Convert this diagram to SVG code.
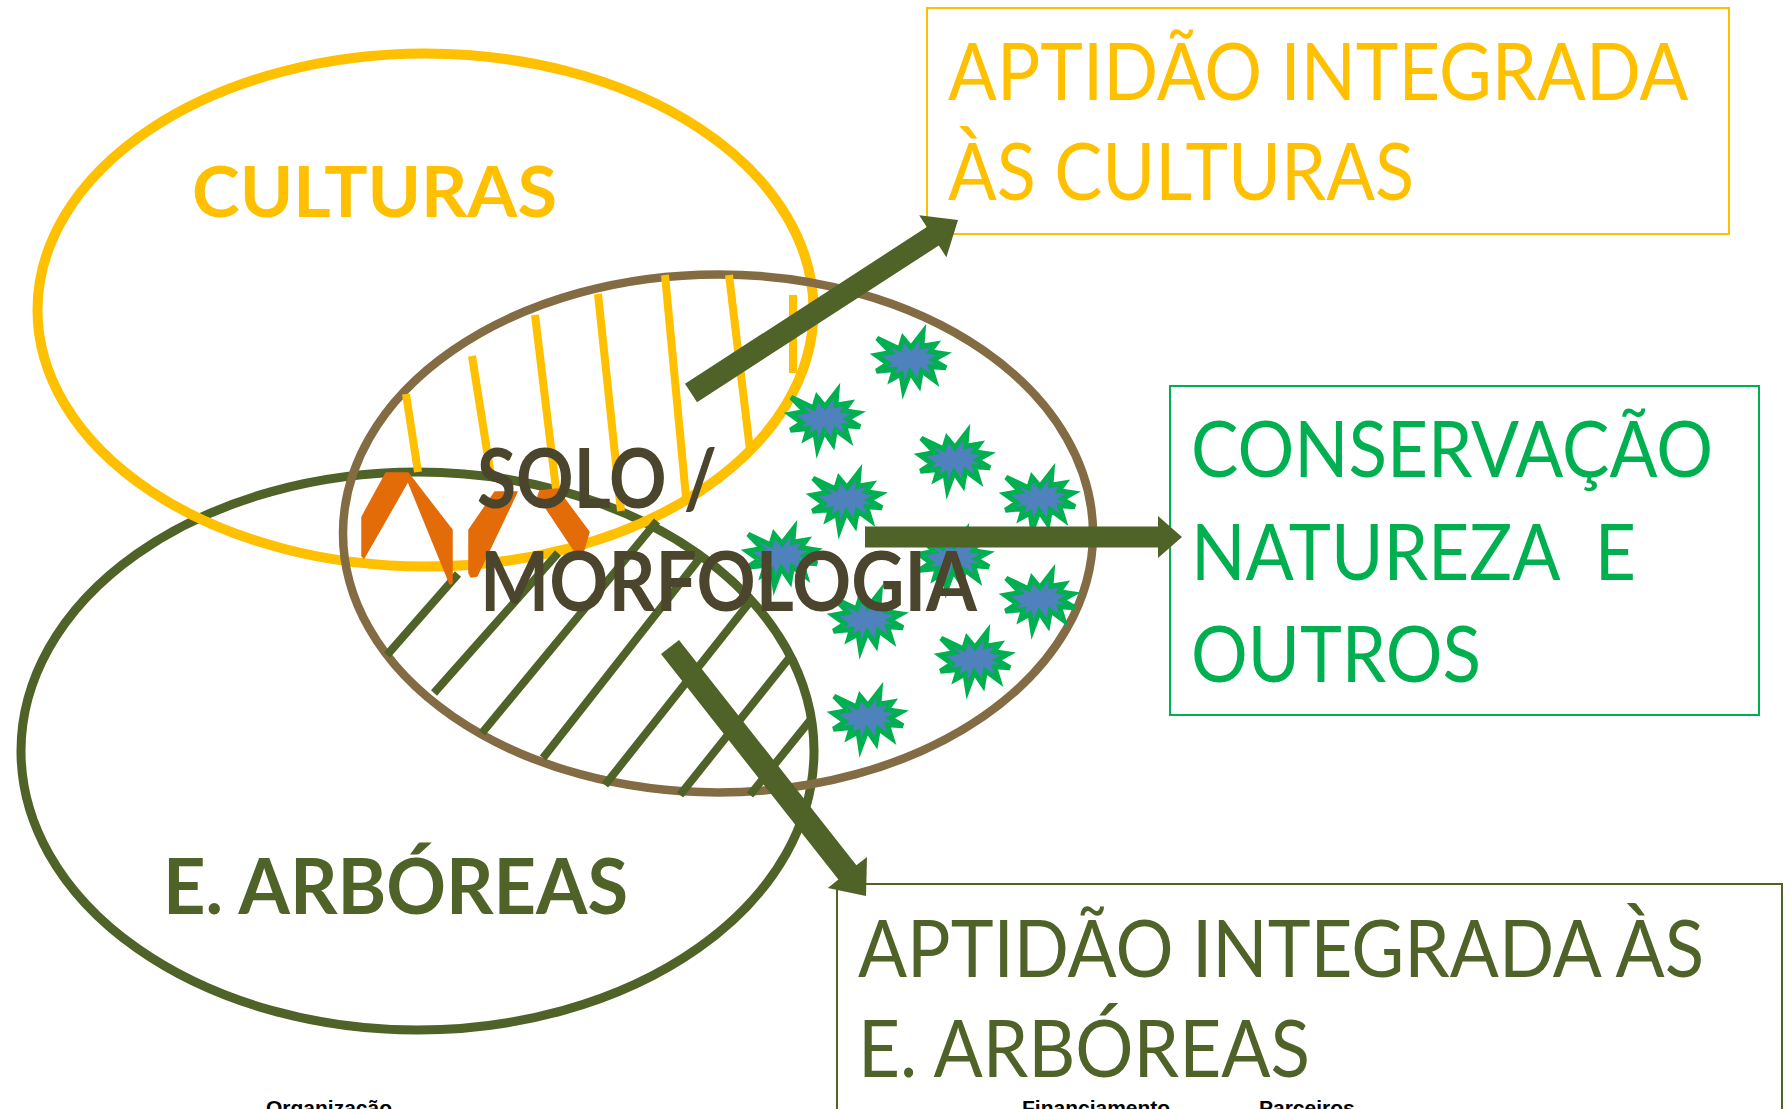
<svg xmlns="http://www.w3.org/2000/svg" xmlns:xlink="http://www.w3.org/1999/xlink" width="1791" height="1109" viewBox="0 0 1791 1109">
<style>
.ring{fill:none}
.lbl{font-family:Lato,"Open Sans","Liberation Sans",sans-serif;font-weight:700}
.box{fill:none;stroke-width:2}
.boxtxt{font-family:Lato,"Open Sans","Liberation Sans",sans-serif;font-weight:400}
.yh{stroke:#FFC000;stroke-width:8;fill:none}
.gh{stroke:#4F6228;stroke-width:8;fill:none}
.chev{fill:#E36C09;stroke:#E36C09;stroke-width:1.5;stroke-linejoin:round}
.star{fill:#4F81BD;stroke:#00B050;stroke-width:5;stroke-linejoin:miter}
.arrow{fill:#4F6228}
.foot{font-family:"Liberation Sans",Arial,sans-serif;font-weight:700;font-size:21px;fill:#000}
</style>
<defs>
<path id="star" d="M0,-13.43 L12.06,-29 L10.87,-14.7 L24.56,-17.03 L19.13,-9.36 L33.37,-7.15 L22.06,-0.87 L35,6.69 L19.56,5.75 L23.8,19.59 L10.43,9.82 L7.93,24 L-0.87,11.1 L-7.5,29 L-10,12.96 L-19.57,18.3 L-16.63,8.42 L-34.56,10.17 L-22.94,2.62 L-35,-5.87 L-20.01,-8.55 L-33.8,-22.84 L-11.3,-12.03 L-7.93,-22.84 Z"/>
</defs>
<rect width="1791" height="1109" fill="#fff"/>

<g id="node-arboreas">
<ellipse class="ring" cx="417.5" cy="751" rx="396.5" ry="279" stroke="#4F6228" stroke-width="9"/>
<text class="lbl" x="163" y="914" font-size="77" fill="#4F6228" textLength="465" lengthAdjust="spacingAndGlyphs">E. ARBÓREAS</text>
</g>

<g id="node-culturas">
<ellipse class="ring" cx="425.5" cy="310" rx="388" ry="256.5" stroke="#FFC000" stroke-width="10"/>
<text class="lbl" x="192" y="217" font-size="71" fill="#FFC000" textLength="365" lengthAdjust="spacingAndGlyphs">CULTURAS</text>
</g>

<g id="node-solo">
<ellipse class="ring" cx="718" cy="533.4" rx="375" ry="259" stroke="#836C44" stroke-width="8.5"/>
<g id="hatch-culturas">
<line class="yh" x1="406" y1="394" x2="418" y2="472"/>
<line class="yh" x1="472" y1="356" x2="491" y2="476"/>
<line class="yh" x1="535" y1="315" x2="556" y2="489"/>
<line class="yh" x1="598" y1="294" x2="621" y2="511"/>
<line class="yh" x1="665" y1="275" x2="686" y2="497"/>
<line class="yh" x1="729" y1="275" x2="750" y2="450"/>
<line class="yh" x1="793" y1="295" x2="793" y2="373"/>
</g>
<g id="hatch-arboreas">
<line class="gh" x1="387" y1="655" x2="458" y2="574"/>
<line class="gh" x1="434" y1="693" x2="558" y2="553"/>
<line class="gh" x1="482" y1="733" x2="657" y2="521"/>
<line class="gh" x1="543" y1="758" x2="703" y2="554"/>
<line class="gh" x1="605" y1="785" x2="753" y2="598"/>
<line class="gh" x1="680" y1="795" x2="790" y2="657"/>
<line class="gh" x1="750" y1="795" x2="812" y2="718"/>
</g>
<g id="chevrons">
<polygon class="chev" points="362,517 386,473 408,473 452,530 452,583 450,584 408,481 364,558 362,556"/>
<polygon class="chev" points="469,530 495,492 517,492 477,576 471,577 469,573"/>
<polygon class="chev" points="540,491 557,489 589,532 582,556 578,556 538,496"/>
</g>
<g id="stars">
<use xlink:href="#star" class="star" x="911" y="361"/>
<use xlink:href="#star" class="star" x="825" y="420"/>
<use xlink:href="#star" class="star" x="955" y="461"/>
<use xlink:href="#star" class="star" x="847" y="501"/>
<use xlink:href="#star" class="star" x="1040" y="500"/>
<use xlink:href="#star" class="star" x="782" y="557"/>
<use xlink:href="#star" class="star" x="954" y="560"/>
<use xlink:href="#star" class="star" x="1040" y="601"/>
<use xlink:href="#star" class="star" x="868" y="621"/>
<use xlink:href="#star" class="star" x="975" y="661"/>
<use xlink:href="#star" class="star" x="868" y="719"/>
</g>
<text class="lbl" x="477" y="508" font-size="82" fill="#4A452C" textLength="240" lengthAdjust="spacingAndGlyphs">SOLO /</text>
<text class="lbl" x="480" y="611" font-size="82" fill="#4A452C" textLength="497" lengthAdjust="spacingAndGlyphs">MORFOLOGIA</text>
</g>

<g id="box-culturas">
<rect class="box" x="927" y="8" width="802" height="226" stroke="#FFC000"/>
<text class="boxtxt" font-size="80" fill="#FFC000">
<tspan x="948" y="100" textLength="738" lengthAdjust="spacingAndGlyphs">APTIDÃO INTEGRADA</tspan>
<tspan x="948" y="200" textLength="466" lengthAdjust="spacingAndGlyphs">ÀS CULTURAS</tspan>
</text>
</g>

<g id="box-conservacao">
<rect class="box" x="1170" y="386" width="589" height="329" stroke="#00B050"/>
<text class="boxtxt" font-size="78" fill="#00B050" xml:space="preserve">
<tspan x="1191" y="477" textLength="522" lengthAdjust="spacingAndGlyphs">CONSERVAÇÃO</tspan>
<tspan x="1191" y="580" textLength="445" lengthAdjust="spacingAndGlyphs">NATUREZA  E</tspan>
<tspan x="1191" y="682" textLength="290" lengthAdjust="spacingAndGlyphs">OUTROS</tspan>
</text>
</g>

<g id="box-arboreas">
<rect class="box" x="837" y="884" width="945" height="240" stroke="#4F6228"/>
<text class="boxtxt" font-size="80" fill="#4F6228">
<tspan x="858" y="977" textLength="846" lengthAdjust="spacingAndGlyphs">APTIDÃO INTEGRADA ÀS</tspan>
<tspan x="858" y="1077" textLength="452" lengthAdjust="spacingAndGlyphs">E. ARBÓREAS</tspan>
</text>
</g>

<g id="connectors">
<polygon class="arrow" points="697,402.2 938.8,245.5 946.4,257.3 958,220 919.2,215.3 926.8,227.1 685,383.8"/>
<polygon class="arrow" points="865,526.5 1158,526.5 1158,516 1182,537 1158,558 1158,547.5 865,547.5"/>
<polygon class="arrow" points="661,654.1 838.4,879.5 827.8,887.9 866,896 867,857 856.4,865.3 679,639.9"/>
</g>

<g id="footer">
<text class="foot" x="266" y="1115">Organização</text>
<text class="foot" x="1022" y="1115">Financiamento</text>
<text class="foot" x="1259" y="1115">Parceiros</text>
</g>
</svg>
